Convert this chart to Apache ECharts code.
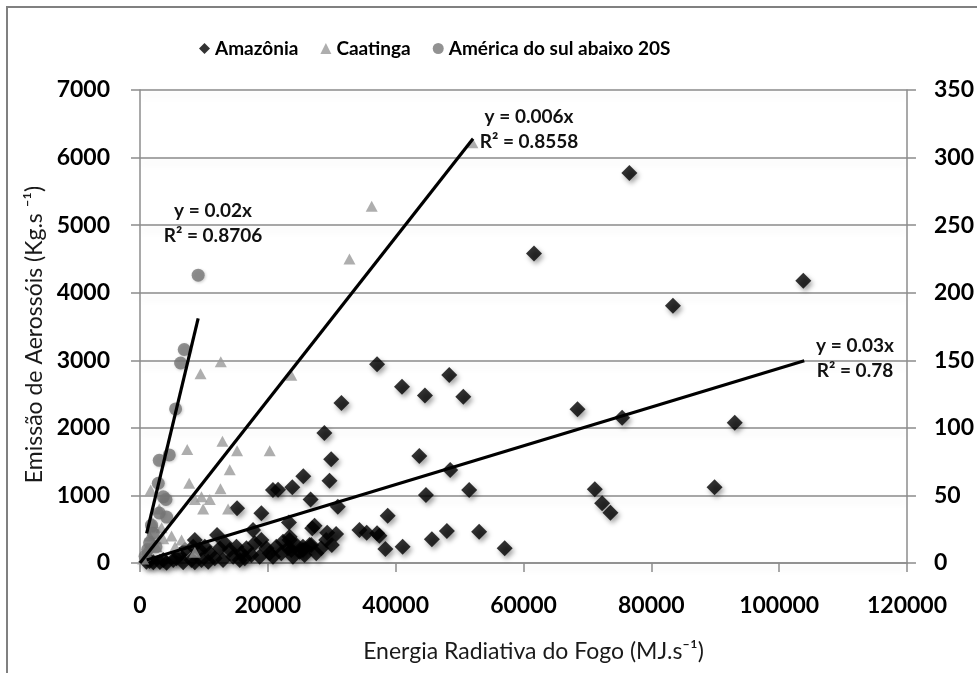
<!DOCTYPE html>
<html>
<head>
<meta charset="utf-8">
<script src="https://cdn.jsdelivr.net/npm/echarts@6/dist/echarts.min.js"></script>
<style>
html,body{margin:0;padding:0;background:#fff;}
#chart{width:977px;height:673px;}
</style>
</head>
<body>
<div id="chart"></div>
<script>
// ---- Data ----
const seriesNames = ['Amazônia', 'Caatinga', 'América do sul abaixo 20S'];

// Amazônia (left axis)
const amazoniaX = [76570,103780,61640,83380,68450,75430,93050,89890,71160,72300,73600,
  37090,40990,48380,44580,50580,31520,28850,29910,29650,25550,23830,20800,21600,26700,30950,
  43700,48530,44740,51500,15190,18990,23300,27310,38750,34330,35470,37090,37450,29290,30690,
  30010,48010,53060,45670,38390,41090,57060,23400,23670,25490,26530,12060,8580,17690,26950,
  6140,7020,8320,9360,10140,10920,12480,13260,14040,15090,15870,16650,17950,18990,19770,20290,
  21330,22370,23150,23410,24450,24970,25490,26790,28350,29130,5200,4160,3120,2080,3640,5720,
  6760,8060,8580,9620,10670,11700,13000,14570,15610,16390,17430,18730,20810,22110,23930,25750,
  27580,1000,1500];
const amazoniaY = [5770,4178,4580,3808,2274,2151,2077,1120,1091,884,745,
  2941,2610,2782,2480,2461,2368,1925,1535,1218,1285,1120,1080,1085,940,834,
  1584,1376,1006,1080,809,735,600,552,700,488,449,439,404,449,429,
  266,474,463,351,207,241,217,340,192,192,266,414,340,488,513,
  118,192,241,192,241,143,217,291,192,241,143,217,291,340,217,143,
  241,315,217,390,266,168,241,266,217,340,44,5,15,10,44,69,
  10,44,10,44,20,69,44,94,44,69,118,94,94,143,94,118,
  143,20,30];

// Caatinga (right axis)
const caatingaX = [52000,36250,32770,12640,9470,23670,7390,12900,15190,20290,14040,7700,12590,
  1670,8580,9620,10920,9880,13780,4940,3380,3640,2600,1040,780,8580,2000,1500,500,5500,6500,3000];
const caatingaY = [311,264,225,149,140,139,84,90,83,83,69,59,55,
  54,47,49,47,40,40,20,26,18,12,10,6,8,30,20,3,12,17,40];

// América do sul abaixo 20S (right axis)
const sulX = [9100,6920,6350,5570,4580,3010,2860,3640,4060,3010,4160,2080,1500,1200,2500,800,1800];
const sulY = [213,158,148,114,80,76,59,49,47,37,34,22,15,10,12,5,28];

// Trend lines (end points)
const trendAmazoniaX = [1045, 103930];
const trendAmazoniaY = [44, 2994];
const trendCaatingaX = [0, 52100];
const trendCaatingaY = [0, 314];
const trendSulX = [1040, 9100];
const trendSulY = [22, 181];

// Axis ticks
const xTicks = {min: 0, max: 120000, interval: 20000};
const yLeftTicks = {min: 0, max: 7000, interval: 1000};
const yRightTicks = {min: 0, max: 350, interval: 50};

// Trend line equations
const trendLabels = [
  ['y = 0.02x', 'R² = 0.8706'],
  ['y = 0.006x', 'R² = 0.8558'],
  ['y = 0.03x', 'R² = 0.78']
];

const zip = (xs, ys) => xs.map((x, i) => [x, ys[i]]);

const FONT = 'Lato, "Open Sans", sans-serif';
const plain = v => String(v);
const tickLabel = {fontFamily: FONT, fontWeight: 'bold', fontSize: 23, color: '#000', formatter: plain};
const axisGray = '#8c8c8c';
const shadow = {shadowBlur: 5, shadowOffsetX: 2, shadowOffsetY: 3, shadowColor: 'rgba(0,0,0,0.45)'};

const chart = echarts.init(document.getElementById('chart'), null, {renderer: 'canvas'});

const trendStyle = {color: '#000', width: 3.2};
function trendSeries(xs, ys, axis) {
  return {
    type: 'line', yAxisIndex: axis, data: zip(xs, ys), symbol: 'none',
    lineStyle: trendStyle, z: 6, silent: true, animation: false
  };
}

function eqText(lines, x, y) {
  return lines.map((t, i) => ({
    type: 'text', x: x, y: y + i * 24.5, z: 100,
    style: {text: t, fontFamily: FONT, fontWeight: 'bold', fontSize: 19, fill: '#111',
      align: 'center', verticalAlign: 'middle'}
  }));
}

chart.setOption({
  animation: false,
  backgroundColor: '#fff',
  grid: {left: 140, right: 68, top: 90, bottom: 110},
  legend: {
    data: [
      {name: seriesNames[0], icon: 'diamond'},
      {name: seriesNames[1], icon: 'triangle'},
      {name: seriesNames[2], icon: 'circle'}
    ],
    left: 194, top: 34, itemWidth: 11, itemHeight: 11, itemGap: 22,
    textStyle: {fontFamily: FONT, fontWeight: 'bold', fontSize: 19, color: '#000'}
  },
  xAxis: {
    type: 'value', min: xTicks.min, max: xTicks.max, interval: xTicks.interval,
    name: 'Energia Radiativa do Fogo (MJ.s⁻¹)', nameLocation: 'middle', nameGap: 77,
    nameTextStyle: {fontFamily: FONT, fontSize: 23, color: '#1a1a1a', padding: [0, 0, 0, 20]},
    axisLine: {show: true, lineStyle: {color: axisGray, width: 1.5}},
    axisTick: {show: true, inside: false, length: 9, lineStyle: {color: axisGray, width: 1.5}},
    axisLabel: Object.assign({margin: 31}, tickLabel),
    splitLine: {show: false}
  },
  yAxis: [{
    type: 'value', position: 'left', min: yLeftTicks.min, max: yLeftTicks.max, interval: yLeftTicks.interval,
    name: 'Emissão de Aerossóis (Kg.s ⁻¹)', nameLocation: 'middle', nameGap: 94, nameRotate: 90,
    nameTextStyle: {fontFamily: FONT, fontSize: 23, color: '#1a1a1a', padding: [0, 16, 0, 0]},
    axisLine: {show: true, lineStyle: {color: axisGray, width: 1.5}},
    axisTick: {show: true, inside: false, length: 9, lineStyle: {color: axisGray, width: 1.5}},
    axisLabel: Object.assign({margin: 30}, tickLabel),
    splitLine: {show: true, lineStyle: {color: '#8a8a8a', width: 1.5,
      shadowBlur: 8, shadowOffsetY: 5, shadowColor: 'rgba(0,0,0,0.10)'}}
  }, {
    type: 'value', position: 'right', min: yRightTicks.min, max: yRightTicks.max, interval: yRightTicks.interval,
    axisLine: {show: true, lineStyle: {color: axisGray, width: 1.5}},
    axisTick: {show: true, inside: false, length: 9, lineStyle: {color: axisGray, width: 1.5}},
    axisLabel: Object.assign({margin: 27}, tickLabel),
    splitLine: {show: false}
  }],
  series: [
    {
      name: seriesNames[0], type: 'scatter', yAxisIndex: 0, data: zip(amazoniaX, amazoniaY),
      symbol: 'diamond', symbolSize: 16, z: 3,
      itemStyle: Object.assign({color: '#000'}, shadow)
    },
    {
      name: seriesNames[1], type: 'scatter', yAxisIndex: 1, data: zip(caatingaX, caatingaY),
      symbol: 'triangle', symbolSize: [12, 11], z: 4,
      itemStyle: {color: '#9a9a9a'}
    },
    {
      name: seriesNames[2], type: 'scatter', yAxisIndex: 1, data: zip(sulX, sulY),
      symbol: 'circle', symbolSize: 13, z: 5,
      itemStyle: {color: '#777777', shadowBlur: 3, shadowOffsetX: 1, shadowOffsetY: 1, shadowColor: 'rgba(0,0,0,0.25)'}
    },
    trendSeries(trendAmazoniaX, trendAmazoniaY, 0),
    trendSeries(trendCaatingaX, trendCaatingaY, 1),
    trendSeries(trendSulX, trendSulY, 1)
  ],
  graphic: [
    {type: 'rect', shape: {x: 7, y: 7, width: 1100, height: 800}, z: -1, silent: true,
      style: {fill: 'none', stroke: '#808080', lineWidth: 2}}
  ].concat(eqText(trendLabels[0], 213, 211))
   .concat(eqText(trendLabels[1], 529, 117))
   .concat(eqText(trendLabels[2], 855, 346))
});
</script>
</body>
</html>
